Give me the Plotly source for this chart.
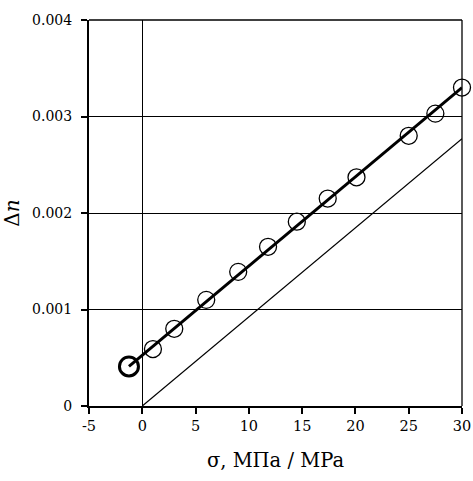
import plotly.graph_objects as go

sigma = [1, 3, 6, 9, 11.8, 14.5, 17.4, 20.1, 25, 27.5, 30]
dn = [0.00059, 0.00080, 0.00110, 0.00139, 0.00165, 0.00191, 0.00215, 0.00237, 0.00280, 0.00303, 0.00330]
sigma0 = [-1.25]
dn0 = [0.00041]
fit_x = [-1.25, 30]
fit_y = [0.00041, 0.00330]
ref_x = [0, 30]
ref_y = [0.0, 0.00277]
x_ticks = [-5, 0, 5, 10, 15, 20, 25, 30]
x_labels = ["-5", "0", "5", "10", "15", "20", "25", "30"]
y_ticks = [0, 0.001, 0.002, 0.003, 0.004]
y_labels = ["0", "0.001", "0.002", "0.003", "0.004"]

font = "DejaVu Serif"

fig = go.Figure()
fig.add_trace(go.Scatter(x=fit_x, y=fit_y, mode="lines",
                         line=dict(color="black", width=3), showlegend=False))
fig.add_trace(go.Scatter(x=ref_x, y=ref_y, mode="lines",
                         line=dict(color="black", width=1.2), showlegend=False))
fig.add_trace(go.Scatter(x=sigma, y=dn, mode="markers",
                         marker=dict(symbol="circle-open", size=17, color="black",
                                     line=dict(width=1.3, color="black")),
                         showlegend=False, cliponaxis=False))
fig.add_trace(go.Scatter(x=sigma0, y=dn0, mode="markers",
                         marker=dict(symbol="circle-open", size=19, color="black",
                                     line=dict(width=3, color="black")),
                         showlegend=False, cliponaxis=False))

fig.update_layout(
    width=473, height=481,
    margin=dict(l=89, r=11, t=20, b=75, autoexpand=False),
    paper_bgcolor="white", plot_bgcolor="white",
    font=dict(family=font, size=14, color="black"),
    xaxis=dict(range=[-5, 30], tickvals=x_ticks, ticktext=x_labels, automargin=False,
               ticks="outside", ticklen=6, tickwidth=1.5, tickcolor="black",
               showline=True, linecolor="black", linewidth=2,
               showgrid=False, zeroline=True, zerolinecolor="black", zerolinewidth=1,
               title=dict(text="σ, МПа / MPa", font=dict(size=19.5), standoff=20),
               tickfont=dict(size=14.5)),
    yaxis=dict(range=[0, 0.004], tickvals=y_ticks, ticktext=y_labels, automargin=False,
               ticks="outside", ticklen=6, tickwidth=1.5, tickcolor="black",
               ticklabelstandoff=6,
               showline=True, linecolor="black", linewidth=2,
               showgrid=True, gridcolor="black", gridwidth=1, zeroline=False,
               title=dict(text="Δ<i>n</i>", font=dict(size=20), standoff=12),
               tickfont=dict(size=14)),
    shapes=[
        dict(type="line", xref="paper", yref="paper", x0=0, x1=1, y0=1, y1=1,
             line=dict(color="black", width=1.3)),
        dict(type="line", xref="paper", yref="paper", x0=1, x1=1, y0=0, y1=1,
             line=dict(color="black", width=1.3)),
    ],
)

fig.write_html("out.html")
